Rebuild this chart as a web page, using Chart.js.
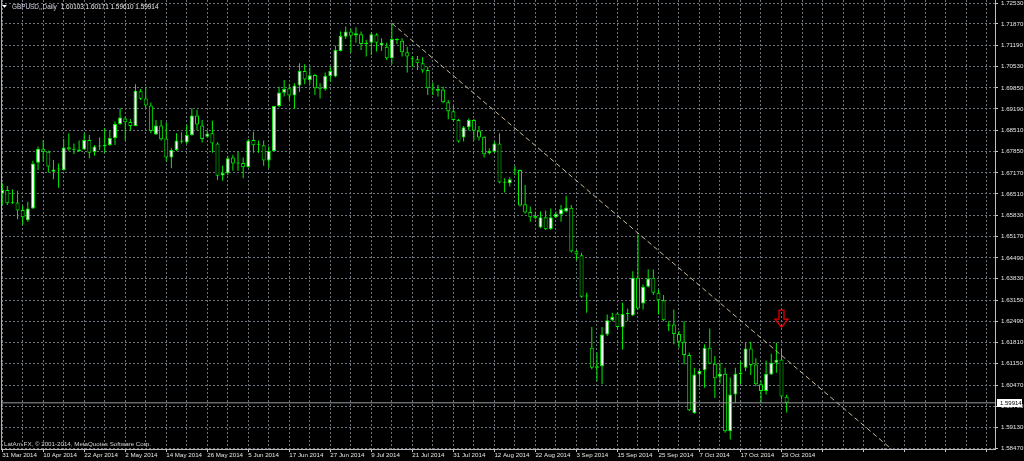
<!DOCTYPE html>
<html><head><meta charset="utf-8">
<script src="https://cdn.jsdelivr.net/npm/chart.js@4.4.0/dist/chart.umd.min.js"></script>
<style>html,body{margin:0;padding:0;background:#000;overflow:hidden}canvas{display:block}</style>
</head><body>
<canvas id="c" width="1024" height="461"></canvas>
<script>
const symbolTitle = "GBPUSD,,Daily";
const copyright = "LatAm FX, \u00A9 2001-2014, MetaQuotes Software Corp.";
const dateLabels = ["31 Mar 2014","10 Apr 2014","22 Apr 2014","2 May 2014","14 May 2014","26 May 2014","5 Jun 2014","17 Jun 2014","27 Jun 2014","9 Jul 2014","21 Jul 2014","31 Jul 2014","12 Aug 2014","22 Aug 2014","3 Sep 2014","15 Sep 2014","25 Sep 2014","7 Oct 2014","17 Oct 2014","29 Oct 2014"];
const dateLabelStep = 8;
const opens = [1.6651,1.6663,1.6621,1.6624,1.6600,1.6568,1.6605,1.6749,1.6793,1.6784,1.6721,1.6728,1.6726,1.6798,1.6791,1.6785,1.6791,1.6821,1.6783,1.6800,1.6802,1.6805,1.6827,1.6871,1.6889,1.6878,1.6865,1.6975,1.6952,1.6930,1.6838,1.6867,1.6826,1.6766,1.6789,1.6819,1.6813,1.6837,1.6898,1.6867,1.6831,1.6842,1.6810,1.6709,1.6716,1.6766,1.6747,1.6748,1.6736,1.6821,1.6804,1.6804,1.6756,1.6786,1.6928,1.6970,1.6984,1.6961,1.6993,1.7039,1.7010,1.7026,1.6984,1.6982,1.7023,1.7021,1.7102,1.7147,1.7163,1.7151,1.7155,1.7124,1.7128,1.7154,1.7119,1.7115,1.7079,1.7140,1.7134,1.7098,1.7077,1.7076,1.7063,1.7042,1.6982,1.6976,1.6980,1.6940,1.6912,1.6884,1.6829,1.6861,1.6884,1.6850,1.6831,1.6779,1.6784,1.6810,1.6687,1.6684,1.6728,1.6726,1.6618,1.6594,1.6581,1.6545,1.6577,1.6540,1.6577,1.6586,1.6595,1.6607,1.6470,1.6457,1.6327,1.6165,1.6102,1.6107,1.6207,1.6252,1.6273,1.6230,1.6272,1.6267,1.6386,1.6305,1.6358,1.6386,1.6339,1.6315,1.6235,1.6239,1.6209,1.6184,1.6142,1.5959,1.6081,1.6094,1.6165,1.6115,1.6074,1.6083,1.5902,1.6018,1.6083,1.6102,1.6163,1.6112,1.6050,1.6029,1.6081,1.6118,1.6128,1.60103];
const highs = [1.6684,1.6676,1.6665,1.6661,1.6613,1.6626,1.6755,1.6800,1.6821,1.6787,1.6758,1.6747,1.6824,1.6842,1.6810,1.6819,1.6842,1.6837,1.6805,1.6829,1.6858,1.6852,1.6879,1.6921,1.6895,1.6887,1.6997,1.6982,1.6989,1.6939,1.6884,1.6884,1.6877,1.6795,1.6842,1.6845,1.6868,1.6921,1.6916,1.6884,1.6852,1.6882,1.6814,1.6740,1.6771,1.6774,1.6784,1.6766,1.6824,1.6847,1.6819,1.6819,1.6800,1.6929,1.6989,1.7010,1.6998,1.7000,1.7063,1.7060,1.7050,1.7029,1.7000,1.7034,1.7052,1.7118,1.7163,1.7179,1.7171,1.7177,1.7163,1.7137,1.7160,1.7158,1.7142,1.7128,1.7189,1.7142,1.7142,1.7115,1.7086,1.7086,1.7082,1.7052,1.7003,1.6995,1.6989,1.6947,1.6928,1.6887,1.6865,1.6889,1.6887,1.6865,1.6833,1.6795,1.6816,1.6842,1.6700,1.6703,1.6739,1.6728,1.6679,1.6611,1.6595,1.6595,1.6598,1.6605,1.6595,1.6616,1.6645,1.6616,1.6474,1.6465,1.6339,1.6231,1.6150,1.6231,1.6270,1.6276,1.6276,1.6307,1.6289,1.6407,1.6523,1.6365,1.6413,1.6412,1.6349,1.6332,1.6249,1.6286,1.6218,1.6249,1.6150,1.6102,1.6099,1.6176,1.6226,1.6139,1.6118,1.6102,1.6071,1.6102,1.6123,1.6181,1.6184,1.6132,1.6062,1.6125,1.6146,1.6181,1.6162,1.60171];
const lows = [1.6616,1.6616,1.6619,1.6571,1.6553,1.6563,1.6603,1.6726,1.6753,1.6718,1.6697,1.6670,1.6724,1.6787,1.6777,1.6784,1.6789,1.6763,1.6771,1.6789,1.6779,1.6802,1.6805,1.6868,1.6819,1.6852,1.6864,1.6947,1.6921,1.6842,1.6837,1.6819,1.6753,1.6732,1.6786,1.6810,1.6808,1.6834,1.6852,1.6813,1.6829,1.6781,1.6695,1.6692,1.6710,1.6724,1.6724,1.6700,1.6734,1.6781,1.6781,1.6740,1.6732,1.6785,1.6924,1.6958,1.6947,1.6919,1.6972,1.6997,1.6997,1.6963,1.6952,1.6976,1.7005,1.7019,1.7100,1.7140,1.7097,1.7128,1.7105,1.7084,1.7089,1.7100,1.7102,1.7073,1.7060,1.7124,1.7084,1.7034,1.7052,1.7042,1.7033,1.6963,1.6963,1.6958,1.6937,1.6886,1.6879,1.6813,1.6816,1.6852,1.6819,1.6819,1.6766,1.6775,1.6781,1.6684,1.6655,1.6674,1.6710,1.6611,1.6589,1.6563,1.6571,1.6542,1.6537,1.6537,1.6574,1.6563,1.6592,1.6466,1.6442,1.6323,1.6276,1.6097,1.6060,1.6050,1.6202,1.6249,1.6226,1.6160,1.6249,1.6265,1.6286,1.6286,1.6355,1.6332,1.6270,1.6249,1.6218,1.6176,1.6165,1.6113,1.5965,1.5957,1.6042,1.6039,1.6113,1.6007,1.6052,1.5897,1.5876,1.5992,1.6050,1.6092,1.6079,1.6044,1.5992,1.6018,1.6079,1.6086,1.6002,1.59610];
const closes = [1.6663,1.6621,1.6623,1.6598,1.6577,1.6605,1.6747,1.6793,1.6784,1.6737,1.6728,1.6729,1.6797,1.6791,1.6790,1.6791,1.6821,1.6781,1.6800,1.6802,1.6803,1.6827,1.6871,1.6892,1.6877,1.6865,1.6976,1.6951,1.6930,1.6849,1.6867,1.6823,1.6766,1.6789,1.6819,1.6815,1.6837,1.6898,1.6870,1.6824,1.6841,1.6810,1.6708,1.6717,1.6763,1.6747,1.6748,1.6735,1.6819,1.6804,1.6805,1.6756,1.6786,1.6928,1.6971,1.6982,1.6961,1.6993,1.7039,1.7012,1.7025,1.6984,1.6983,1.7024,1.7039,1.7105,1.7149,1.7163,1.7150,1.7158,1.7124,1.7128,1.7155,1.7128,1.7128,1.7079,1.7140,1.7136,1.7098,1.7084,1.7076,1.7063,1.7040,1.6984,1.6980,1.6982,1.6940,1.6912,1.6884,1.6816,1.6861,1.6884,1.6850,1.6829,1.6776,1.6786,1.6810,1.6687,1.6686,1.6697,1.6725,1.6614,1.6592,1.6577,1.6574,1.6577,1.6539,1.6577,1.6587,1.6602,1.6607,1.6469,1.6460,1.6326,1.6329,1.6102,1.6107,1.6207,1.6252,1.6262,1.6231,1.6272,1.6274,1.6386,1.6289,1.6358,1.6384,1.6339,1.6315,1.6252,1.6239,1.6209,1.6184,1.6142,1.5968,1.6081,1.6092,1.6165,1.6115,1.6069,1.6083,1.5902,1.6018,1.6083,1.6082,1.6163,1.6111,1.6050,1.6029,1.6083,1.6118,1.6127,1.6011,1.59914];
const priceTicks = [1.72530,1.71870,1.71190,1.70530,1.69850,1.69190,1.68510,1.67850,1.67170,1.66510,1.65830,1.65170,1.64490,1.63830,1.63150,1.62490,1.61810,1.61150,1.60470,1.59790,1.59130,1.58470];
const bidPrice = 1.59914;
const trendLine = [{x:76, y:1.7189},{x:175, y:1.5824}];
const arrowMark = {x:152, y:1.6284};

const GREEN = '#00f000';
const GRID = '#6b747d';
const TXT = '#e6e6e6';
const FONT = "'Liberation Sans', Arial, sans-serif";

const idx = opens.map((_, i) => i);
const bodyColors = idx.map(i => closes[i] >= opens[i] ? '#ffffff' : '#000000');

const overlay = {
  id: 'overlay',
  afterDraw(chart) {
    const ctx = chart.ctx, xs = chart.scales.x, ys = chart.scales.y, a = chart.chartArea;
    ctx.save();
    ctx.fillStyle = '#b0b0b0';
    ctx.fillRect(1, 0, 1, a.bottom);
    ctx.fillStyle = '#ffffff';
    ctx.beginPath(); ctx.moveTo(2, 5); ctx.lineTo(7, 5); ctx.lineTo(4.5, 7.8); ctx.closePath(); ctx.fill();
    const n = opens.length - 1;
    ctx.font = "6.4px " + FONT;
    ctx.textBaseline = 'middle';
    ctx.textAlign = 'left';
    ctx.fillStyle = '#d8d8ec';
    ctx.fillText(symbolTitle, 12, 6.8);
    const w = ctx.measureText(symbolTitle).width;
    ctx.fillStyle = '#ececec';
    ctx.fillText([opens[n], highs[n], lows[n], closes[n]].map(v => v.toFixed(5)).join(' '), 12 + w + 4, 6.8);
    ctx.font = "6.2px " + FONT;
    ctx.fillStyle = '#d4d4d4';
    ctx.fillText(copyright, 4, 444.5);
    const by = ys.getPixelForValue(bidPrice);
    ctx.fillStyle = '#ffffff';
    ctx.fillRect(997, Math.round(by) - 4, 25, 8);
    ctx.fillStyle = '#000000';
    ctx.font = "6px " + FONT;
    ctx.fillText(bidPrice.toFixed(5), 1000, Math.round(by) + 0.3);
    const cx = xs.getPixelForValue(arrowMark.x), y0 = ys.getPixelForValue(arrowMark.y);
    ctx.strokeStyle = '#e00000';
    ctx.lineWidth = 1.3;
    ctx.beginPath();
    ctx.moveTo(cx - 2.5, y0); ctx.lineTo(cx + 2.5, y0); ctx.lineTo(cx + 2.5, y0 + 9);
    ctx.lineTo(cx + 6.5, y0 + 9); ctx.lineTo(cx, y0 + 17); ctx.lineTo(cx - 6.5, y0 + 9);
    ctx.lineTo(cx - 2.5, y0 + 9); ctx.closePath(); ctx.stroke();
    ctx.restore();
  }
};

new Chart(document.getElementById('c'), {
  type: 'bar',
  data: {
    datasets: [
      { type: 'bar', label: 'wick', data: idx.map(i => ({x: i, y: [lows[i], highs[i]]})),
        backgroundColor: GREEN, barThickness: 1, grouped: false, order: 2, inflateAmount: 0, borderWidth: 0 },
      { type: 'bar', label: 'body', data: idx.map(i => ({x: i, y: [opens[i], closes[i]]})),
        backgroundColor: bodyColors, borderColor: GREEN, borderWidth: 1, borderSkipped: false,
        barThickness: 4, grouped: false, order: 1, minBarLength: 1, inflateAmount: 0 },
      { type: 'line', label: 'bid', data: [{x: -1, y: bidPrice}, {x: 200, y: bidPrice}],
        borderColor: '#9a9a9a', borderWidth: 1, pointRadius: 0, order: 0 },
      { type: 'line', label: 'trend', data: trendLine,
        borderColor: '#c8b896', borderWidth: 1, borderDash: [5, 3], pointRadius: 0, order: 0 }
    ]
  },
  options: {
    responsive: false, animation: false, events: [],
    devicePixelRatio: 1,
    layout: { padding: { left: 1, top: 0, right: 0, bottom: 0 } },
    plugins: { legend: { display: false }, tooltip: { enabled: false } },
    scales: {
      x: {
        type: 'linear', min: -0.23, max: 193.64, offset: false,
        afterBuildTicks: s => { const t = []; for (let v = 0; v <= 192; v += 4) t.push({value: v}); s.ticks = t; },
        afterFit: s => { s.height = 12; s.paddingLeft = 0; s.paddingRight = 0; },
        grid: { offset: false, color: GRID, lineWidth: 1, drawTicks: true, tickLength: 3, tickWidth: 1,
          tickColor: c => (c.tick && c.tick.value % dateLabelStep === 0) ? '#c8c8c8' : 'rgba(0,0,0,0)' },
        border: { display: true, color: '#bdbdbd', dash: [2, 2] },
        ticks: { autoSkip: false, maxRotation: 0, minRotation: 0, align: 'start', padding: 0,
          color: TXT, font: { size: 6.2, family: FONT },
          callback: v => (v % dateLabelStep === 0 && v / dateLabelStep < dateLabels.length) ? dateLabels[v / dateLabelStep] : '' }
      },
      y: {
        type: 'linear', position: 'right', min: 1.58457, max: 1.72627,
        afterBuildTicks: s => { s.ticks = priceTicks.map(v => ({value: v})); },
        afterFit: s => { s.width = 29; s.paddingTop = 0; s.paddingBottom = 0; },
        grid: { color: GRID, lineWidth: 1, drawTicks: true, tickLength: 3, tickWidth: 1, tickColor: '#c8c8c8' },
        border: { display: true, color: '#bdbdbd', dash: [2, 2] },
        ticks: { padding: 3, color: TXT, font: { size: 6.2, family: FONT }, callback: v => v.toFixed(5) }
      }
    }
  },
  plugins: [overlay]
});
</script>
</body></html>
